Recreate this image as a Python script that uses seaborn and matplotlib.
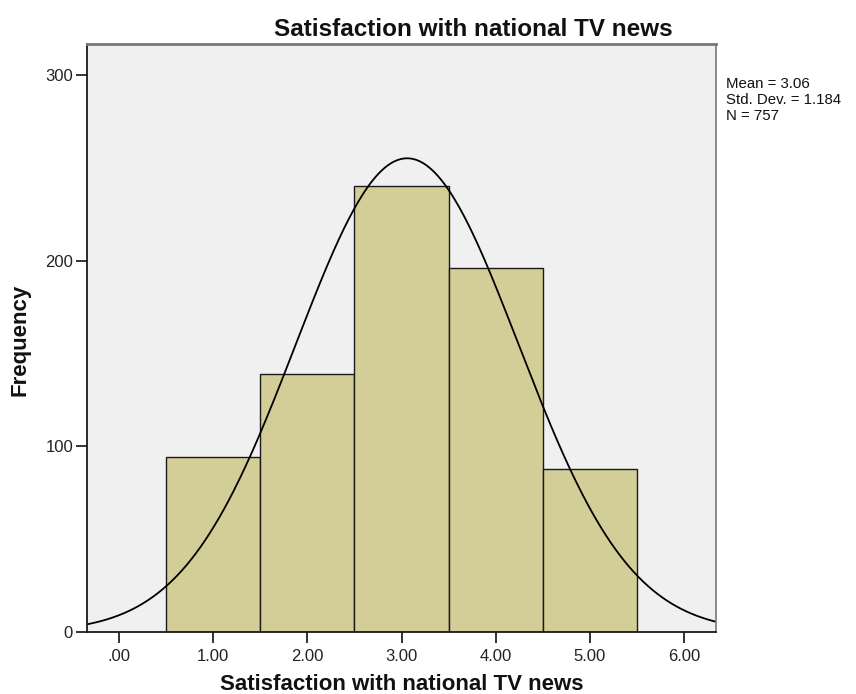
import numpy as np
import matplotlib
matplotlib.use("Agg")
import matplotlib.pyplot as plt
import seaborn as sns

# histogram data
categories = [1, 2, 3, 4, 5]
counts = [94, 139, 240, 196, 88]
bin_edges = [0.5, 1.5, 2.5, 3.5, 4.5, 5.5]
x_ticks = [0, 1, 2, 3, 4, 5, 6]
x_tick_labels = [".00", "1.00", "2.00", "3.00", "4.00", "5.00", "6.00"]
y_ticks = [0, 100, 200, 300]

mean_val = 3.06
std_val = 1.184
n_val = 757

sns.set_style("white")
plt.rcParams["font.family"] = ["Liberation Sans", "DejaVu Sans"]

fig = plt.figure(figsize=(8.56, 6.94), dpi=100)
ax = fig.add_axes([87 / 856, 62 / 694, 629 / 856, 588 / 694])
ax.set_facecolor("#f0f0f0")

sns.histplot(x=categories, weights=counts, bins=bin_edges, ax=ax,
             color="#d3ce97", alpha=1.0, edgecolor="#1a1a1a", linewidth=1.0)

# fitted normal curve scaled to counts (bin width 1)
xs = np.linspace(-0.34, 6.34, 400)
ys = n_val * np.exp(-0.5 * ((xs - mean_val) / std_val) ** 2) / (std_val * np.sqrt(2 * np.pi))
sns.lineplot(x=xs, y=ys, ax=ax, color="black", linewidth=1.3)

ax.set_xlim(-0.34, 6.34)
ax.set_ylim(0, 316.6)
ax.set_xticks(x_ticks)
ax.set_xticklabels(x_tick_labels)
ax.set_yticks(y_ticks)
ax.tick_params(axis="both", direction="out", length=8, width=1.3, labelsize=12,
               color="#222222", labelcolor="#222222", bottom=True, left=True)
ax.tick_params(axis="x", pad=4)
ax.tick_params(axis="y", pad=2)

for side in ["left", "bottom"]:
    ax.spines[side].set_color("#1a1a1a")
    ax.spines[side].set_linewidth(1.3)
ax.spines["top"].set_color("#777777")
ax.spines["top"].set_linewidth(2.0)
ax.spines["right"].set_color("#777777")
ax.spines["right"].set_linewidth(1.2)

ax.set_xlabel("")
ax.set_ylabel("")
fig.text(473 / 856, 1 - 29 / 694, "Satisfaction with national TV news",
         fontsize=17.5, fontweight="bold", ha="center", va="center", color="#111111")
fig.text(402 / 856, 1 - 685 / 694, "Satisfaction with national TV news",
         fontsize=16, fontweight="bold", ha="center", va="center", color="#111111")
fig.text(20 / 856, 1 - 340 / 694, "Frequency", rotation=90,
         fontsize=16, fontweight="bold", ha="center", va="center", color="#111111")

fig.text(726 / 856, 1 - 100 / 694,
         f"Mean = {mean_val:.2f}\nStd. Dev. = {std_val:.3f}\nN = {n_val}",
         fontsize=10.8, va="center", ha="left", linespacing=1.2, color="#111111")

fig.savefig("out.png", dpi=100)
